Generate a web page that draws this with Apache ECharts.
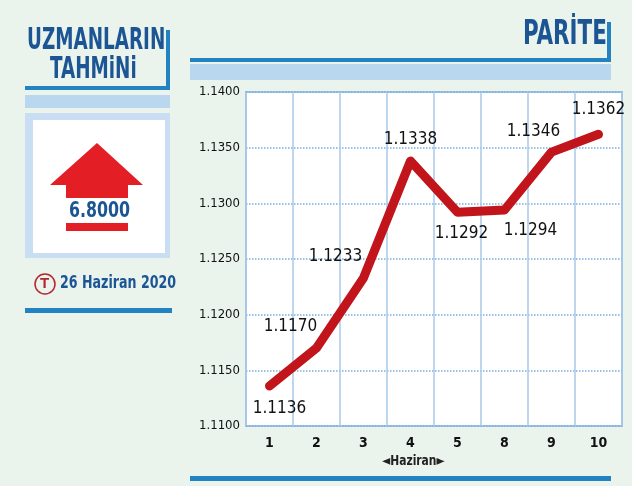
<!DOCTYPE html><html><head><meta charset="utf-8"><script src="https://cdn.jsdelivr.net/npm/echarts@6/dist/echarts.min.js"></script>
<style>html,body{margin:0;padding:0;background:#eaf3ec}#c{width:632px;height:486px}</style></head><body><div id="c"></div><script>
const categories=['1','2','3','4','5','8','9','10'];
const values=[1.1136,1.1170,1.1233,1.1338,1.1292,1.1294,1.1346,1.1362];
const labelPos=['bottom','top','top','top','bottom','bottom','top','top'];
const labelShift=[[10,2],[-26,0],[-28,0],[0,0],[4,0],[26,0],[-18,0],[0,-4]];
const F="'Liberation Sans Narrow','DejaVu Sans Condensed',sans-serif";
const blue='#1c5594',bar='#2383c0',band='#b9d7ef',red='#e31e24';
const ch=echarts.init(document.getElementById('c'));
ch.setOption({
backgroundColor:'#eaf3ec',
graphic:[
 {type:'text',x:27,y:26,scaleX:0.68,style:{text:'UZMANLARIN',font:'bold 30px '+F,fill:blue}},
 {type:'text',x:50,y:55,scaleX:0.68,style:{text:'TAHMiNi',font:'bold 30px '+F,fill:blue}},
 {type:'rect',shape:{x:166,y:30,width:4,height:60},style:{fill:bar}},
 {type:'rect',shape:{x:25,y:86,width:145,height:4},style:{fill:bar}},
 {type:'rect',shape:{x:25,y:95,width:145,height:13},style:{fill:band}},
 {type:'rect',shape:{x:25,y:113,width:145,height:145},style:{fill:'#c9def3'}},
 {type:'rect',shape:{x:33,y:120,width:132,height:133},style:{fill:'#fff'}},
 {type:'polygon',shape:{points:[[97,143],[143,185],[128,185],[128,198],[66,198],[66,185],[50,185]]},style:{fill:red}},
 {type:'text',x:69,y:200,scaleX:0.8,style:{text:'6.8000',font:'bold 22px '+F,fill:blue}},
 {type:'rect',shape:{x:66,y:223,width:62,height:8},style:{fill:red}},
 {type:'circle',shape:{cx:45,cy:284,r:10},style:{fill:'none',stroke:'#b3262b',lineWidth:1.5}},
 {type:'text',x:40,y:276,style:{text:'T',font:'bold 15px sans-serif',fill:'#b3262b'}},
 {type:'text',x:60,y:274,scaleX:0.78,style:{text:'26 Haziran 2020',font:'bold 18px '+F,fill:blue}},
 {type:'rect',shape:{x:25,y:308,width:147,height:5},style:{fill:bar}},
 {type:'text',x:523,y:18,scaleX:0.7,style:{text:'PARİTE',font:'bold 34px '+F,fill:blue}},
 {type:'rect',shape:{x:607,y:22,width:4,height:40},style:{fill:bar}},
 {type:'rect',shape:{x:190,y:58,width:421,height:4},style:{fill:bar}},
 {type:'rect',shape:{x:190,y:64,width:421,height:16},style:{fill:band}},
 {type:'rect',shape:{x:190,y:476,width:421,height:5},style:{fill:bar}},
 {type:'text',x:382,y:454,scaleX:0.85,style:{text:'◄Haziran►',font:'bold 14px '+F,fill:'#222'}}
],
grid:{left:246,top:92,width:376,height:334,backgroundColor:'#fff',show:true,borderColor:'#9fc3e4',borderWidth:2},
xAxis:{type:'category',data:categories,boundaryGap:true,axisLine:{show:false},axisTick:{show:false},
 axisLabel:{color:'#111',fontFamily:F,fontSize:14,fontWeight:'bold',margin:10},
 splitLine:{show:true,lineStyle:{color:'#a9c9e8',width:1.5}}},
yAxis:{type:'value',min:1.11,max:1.14,interval:0.005,axisLine:{show:false},axisTick:{show:false},
 axisLabel:{color:'#111',fontFamily:F,fontSize:13,formatter:v=>v.toFixed(4),margin:6},
 splitLine:{lineStyle:{color:'#7aaee0',type:'dotted',width:1.5}}},
series:[{type:'line',data:values.map((v,i)=>({value:v,label:{position:labelPos[i],offset:labelShift[i]}})),symbol:'circle',symbolSize:1,showSymbol:true,
 itemStyle:{color:'#c1141b'},
 lineStyle:{color:'#c1141b',width:9,cap:'round',join:'round'},
 label:{show:true,fontFamily:F,fontSize:17,color:'#111',distance:12,formatter:p=>p.value.toFixed(4)}}]
});
</script></body></html>
